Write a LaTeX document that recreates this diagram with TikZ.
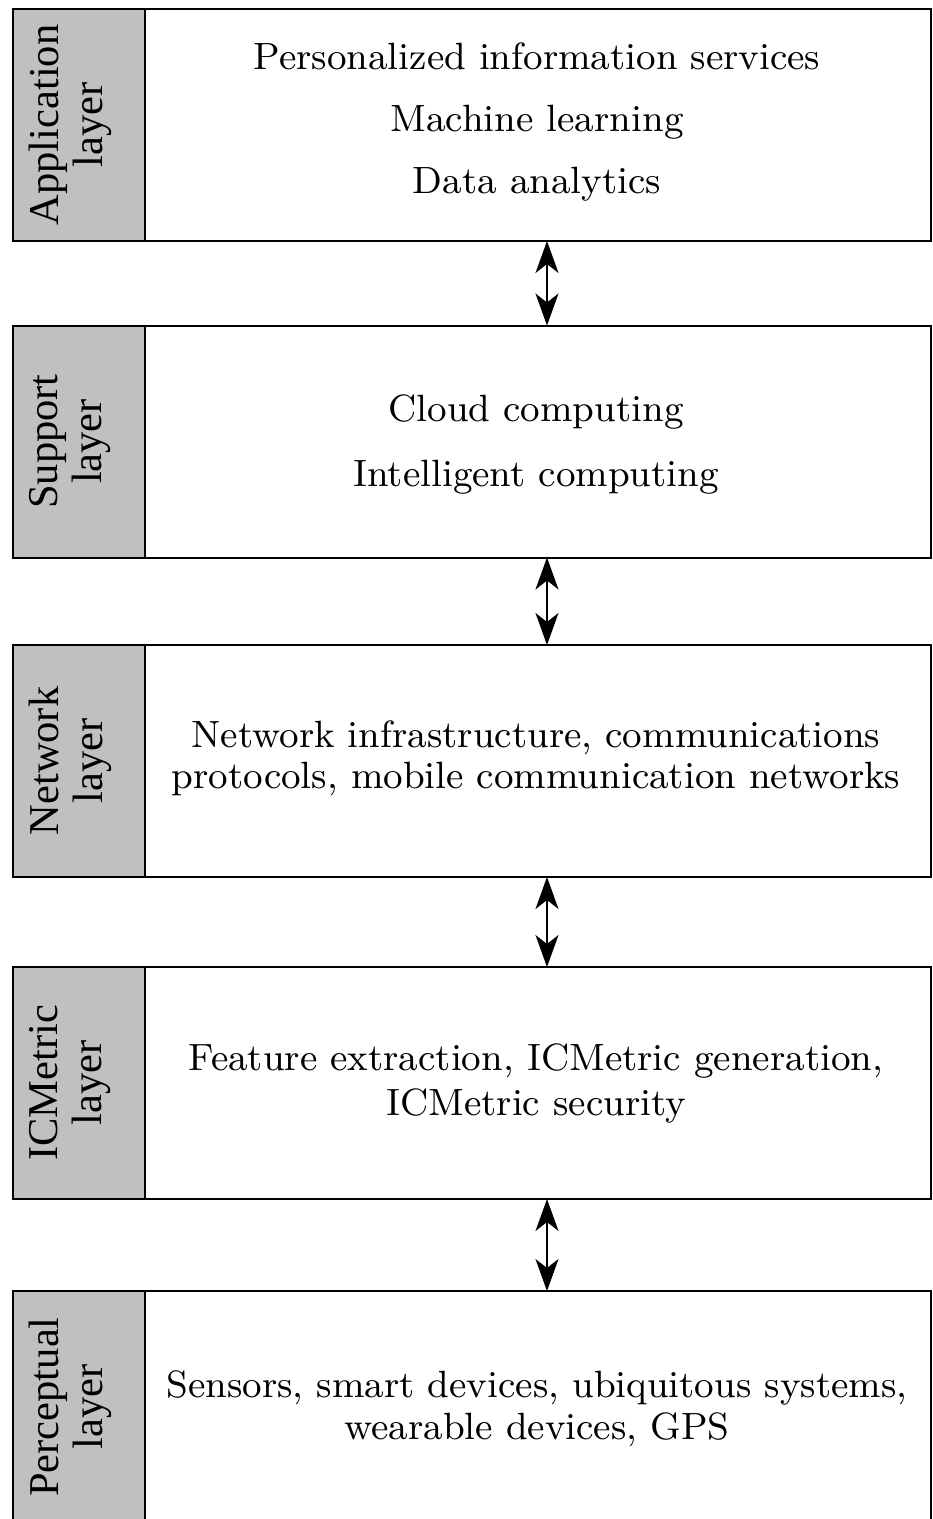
\documentclass[tikz,border=0pt]{standalone}
\usepackage{fontspec}
\newfontfamily\sidefont{Liberation Serif}
\usetikzlibrary{arrows.meta}
\definecolor{cellgray}{RGB}{192,192,192}
\begin{document}
\begin{tikzpicture}[x=1pt,y=-1pt,
  layerbox/.style={draw=black,line width=2pt,fill=white,minimum width=918pt,minimum height=232pt,inner sep=0pt,outer sep=0pt},
  labelcell/.style={draw=black,line width=2pt,fill=cellgray,minimum width=132pt,minimum height=232pt,inner sep=0pt,outer sep=0pt},
  sidelabel/.style={rotate=90,align=center,font={\sidefont\fontsize{42.5}{44}\selectfont},inner sep=0pt},
  maintext/.style={align=center,scale=4.222,inner sep=0pt},
  dblarrow/.style={line width=1.5pt,{Stealth[length=32pt,width=23pt,inset=9pt]}-{Stealth[length=32pt,width=23pt,inset=9pt]}}
]
\useasboundingbox (0,0) rectangle (933,1519);
\clip (0,0) rectangle (933,1519);
\fill[white] (0,0) rectangle (933,1519);

% boxes
\node[layerbox] (b1) at (472,125) {};
\node[labelcell] (c1) at (79,125) {};
\node[layerbox] (b2) at (472,441.5) {};
\node[labelcell] (c2) at (79,441.5) {};
\node[layerbox] (b3) at (472,761) {};
\node[labelcell] (c3) at (79,761) {};
\node[layerbox] (b4) at (472,1083) {};
\node[labelcell] (c4) at (79,1083) {};
\node[layerbox] (b5) at (472,1407) {};
\node[labelcell] (c5) at (79,1407) {};

% side labels
\node[sidelabel] (s1) at ([xshift=-9pt]c1.center) {Application\\layer};
\node[sidelabel] (s2) at ([xshift=-9pt]c2.center) {Support\\layer};
\node[sidelabel] (s3) at ([xshift=-9pt]c3.center) {Network\\layer};
\node[sidelabel] (s4) at ([xshift=-9pt]c4.center) {ICMetric\\layer};
\node[sidelabel] (s5) at ([xshift=-9pt]c5.center) {Perceptual\\layer};

% main texts
\node[maintext,font={\fontsize{9}{14.7}\selectfont}] (m1) at (537,122) {Personalized information services\\Machine learning\\Data analytics};
\node[maintext,font={\fontsize{9}{15.4}\selectfont}] (m2) at (536,445) {Cloud computing\\Intelligent computing};
\node[maintext,font={\fontsize{9}{9.7}\selectfont}] (m3) at (536,758) {Network infrastructure, communications\\protocols, mobile communication networks};
\node[maintext,font={\fontsize{9}{10.66}\selectfont}] (m4) at (536,1083) {Feature extraction, ICMetric generation,\\ICMetric security};
\node[maintext,font={\fontsize{9}{9.95}\selectfont}] (m5) at (537,1409) {Sensors, smart devices, ubiquitous systems,\\wearable devices, GPS};

% arrows
\draw[dblarrow] ([xshift=75pt]b1.south) -- ([xshift=75pt]b2.north);
\draw[dblarrow] ([xshift=75pt]b2.south) -- ([xshift=75pt]b3.north);
\draw[dblarrow] ([xshift=75pt]b3.south) -- ([xshift=75pt]b4.north);
\draw[dblarrow] ([xshift=75pt]b4.south) -- ([xshift=75pt]b5.north);
\end{tikzpicture}
\end{document}
